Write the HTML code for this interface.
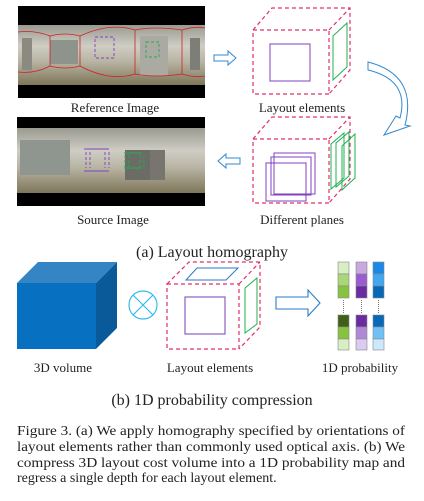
<!DOCTYPE html>
<html><head><meta charset="utf-8"><style>
html,body{margin:0;padding:0;background:#fff;}
svg{display:block;}
.t{font-family:"Liberation Serif",serif;fill:#222;}
</style></head><body>
<svg width="424" height="501" viewBox="0 0 424 501" xmlns="http://www.w3.org/2000/svg">
<defs>
<linearGradient id="pan" x1="0" y1="0" x2="0" y2="1">
<stop offset="0" stop-color="#9a9a90"/><stop offset="0.35" stop-color="#cfcdc4"/><stop offset="0.6" stop-color="#b9b5a5"/><stop offset="1" stop-color="#7f7659"/>
</linearGradient>
</defs>
<rect x="18" y="6" width="187" height="92" fill="#000"/>
<rect x="18" y="25" width="187" height="60" fill="url(#pan)"/>
<rect x="22" y="38" width="10" height="32" fill="#8a8a80"/>
<rect x="50" y="40" width="28" height="24" fill="#8e948c"/>
<rect x="140" y="36" width="28" height="40" fill="#aaa9a2"/>
<rect x="190" y="38" width="10" height="32" fill="#7e7e78"/>
<g fill="none" stroke="#d02020" stroke-width="0.8">
<path d="M18,32 Q35,30 50,36 Q65,32 80,36 Q110,22 135,30 Q155,26 182,30 Q195,26 205,28"/>
<path d="M18,72 Q35,74 50,66 Q65,70 80,66 Q110,82 135,74 Q155,78 182,74 Q195,78 205,76"/>
<line x1="50" y1="36" x2="50" y2="66"/><line x1="80" y1="36" x2="80" y2="66"/>
<line x1="135" y1="30" x2="135" y2="74"/><line x1="182" y1="30" x2="182" y2="74"/>
</g>
<rect x="95" y="37" width="19" height="21" fill="none" stroke="#8040c0" stroke-width="0.9" stroke-dasharray="3,2"/>
<rect x="146" y="42" width="13" height="15" fill="none" stroke="#20b050" stroke-width="0.9" stroke-dasharray="3,2"/>
<text class="t" x="115" y="112" font-size="13" text-anchor="middle">Reference Image</text>
<rect x="17" y="117" width="188" height="89" fill="#000"/>
<rect x="17" y="128" width="188" height="65" fill="url(#pan)"/>
<rect x="20" y="140" width="50" height="35" fill="#8f9690"/>
<rect x="125" y="150" width="25" height="30" fill="#6c6c66"/>
<rect x="150" y="150" width="15" height="30" fill="#77756e"/>
<g fill="none" stroke="#8040c0" stroke-width="0.9"><line x1="84" y1="149" x2="109" y2="149"/><line x1="84" y1="171" x2="109" y2="171"/><path d="M86,152v16M90,152v16M105,152v16M109,152v16" stroke-dasharray="3,2"/></g>
<g fill="none" stroke="#20b050" stroke-width="0.9"><line x1="124" y1="153" x2="142" y2="153"/><line x1="124" y1="168" x2="142" y2="168"/><path d="M125,155v12M129,155v12M140,155v12M144,155v12" stroke-dasharray="3,2"/></g>
<text class="t" x="113" y="224" font-size="13" text-anchor="middle">Source Image</text>
<path d="M214,55h14v-4l8,7l-8,7v-4h-14z" fill="#fff" stroke="#3388cc" stroke-width="1"/>
<path d="M240,158h-14v-4l-8,7l8,7v-4h14z" fill="#fff" stroke="#3388cc" stroke-width="1"/>
<path d="M368,62 Q418,75 405,125 L410,126 L384,135 L396,116 L400,118 Q410,80 368,70 Z" fill="#fff" stroke="#3388cc" stroke-width="1"/>
<g fill="none" stroke="#e0306a" stroke-width="1.2" stroke-dasharray="4,3">
<rect x="253" y="30" width="76" height="64"/>
<path d="M253,30L272,8H350V70L329,94M329,30L350,8"/>
</g>
<rect x="270" y="44" width="40" height="37" fill="none" stroke="#8040c0" stroke-width="1"/>
<path d="M333,36L347,23V67L333,80Z" fill="none" stroke="#20b050" stroke-width="1"/>
<text class="t" x="302" y="112" font-size="13" text-anchor="middle">Layout elements</text>
<g fill="none" stroke="#e0306a" stroke-width="1.2" stroke-dasharray="4,3">
<rect x="253" y="139" width="76" height="64"/>
<path d="M253,139L272,117H350V179L329,203M329,139L350,117"/>
</g>
<g fill="none" stroke="#8040c0" stroke-width="1">
<rect x="274" y="153" width="41" height="41"/><rect x="271" y="157" width="40" height="38"/><rect x="266" y="163" width="40" height="38"/>
</g>
<g fill="none" stroke="#20b050" stroke-width="1">
<path d="M331,144L344,133V178L331,189Z"/><path d="M336,143L349,132V176L336,187Z"/><path d="M342,146L355,134V178L342,190Z"/>
</g>
<text class="t" x="302" y="224" font-size="13" text-anchor="middle">Different planes</text>
<text class="t" x="212" y="257" font-size="16" text-anchor="middle">(a) Layout homography</text>
<path d="M17,283L38,262H117L96,283Z" fill="#3585c5"/>
<path d="M96,283L117,262V328L96,349Z" fill="#0a5a9a"/>
<rect x="17" y="283" width="79" height="66" fill="#0870c0"/>
<circle cx="143" cy="305" r="14" fill="none" stroke="#33bbee" stroke-width="1.2"/>
<path d="M133,295L153,315M153,295L133,315" stroke="#33bbee" stroke-width="1.2"/>
<text class="t" x="63" y="372" font-size="13" text-anchor="middle">3D volume</text>
<g fill="none" stroke="#e0306a" stroke-width="1.2" stroke-dasharray="4,3">
<rect x="167" y="284" width="72" height="65"/>
<path d="M167,284L189,262H260V327L239,349M239,284L260,262"/>
</g>
<path d="M186,280L197,268H238L226,280Z" fill="none" stroke="#2a7ac8" stroke-width="1"/>
<rect x="185" y="297" width="40" height="37" fill="none" stroke="#8a60c0" stroke-width="1.2"/>
<path d="M245,288L257,278V324L245,333Z" fill="none" stroke="#20b050" stroke-width="1"/>
<text class="t" x="210" y="372" font-size="13" text-anchor="middle">Layout elements</text>
<path d="M276,297h32v-7l12,13l-12,13v-7h-32z" fill="#fff" stroke="#2a7ac8" stroke-width="1.1"/>
<g stroke="#888" stroke-width="0.6">
<rect x="338" y="262" width="11" height="12" fill="#d8eec4"/><rect x="338" y="274" width="11" height="12" fill="#a8d878"/><rect x="338" y="286" width="11" height="12" fill="#86c440"/>
<rect x="338" y="315" width="11" height="12" fill="#3e6018"/><rect x="338" y="327" width="11" height="12" fill="#86c440"/><rect x="338" y="339" width="11" height="11" fill="#d8eec4"/>
<rect x="356" y="262" width="11" height="12" fill="#c8a8e0"/><rect x="356" y="274" width="11" height="12" fill="#9a5cd0"/><rect x="356" y="286" width="11" height="12" fill="#6a2aa0"/>
<rect x="356" y="315" width="11" height="12" fill="#6a2aa0"/><rect x="356" y="327" width="11" height="12" fill="#b088d8"/><rect x="356" y="339" width="11" height="11" fill="#dccaf0"/>
<rect x="373" y="262" width="11" height="12" fill="#1a88e8"/><rect x="373" y="274" width="11" height="12" fill="#40a8f0"/><rect x="373" y="286" width="11" height="12" fill="#0868b8"/>
<rect x="373" y="315" width="11" height="12" fill="#0868b8"/><rect x="373" y="327" width="11" height="12" fill="#70c0f8"/><rect x="373" y="339" width="11" height="11" fill="#cce8fa"/>
</g>
<g stroke="#555" stroke-width="0.8" stroke-dasharray="1,1"><path d="M343.5,300v13M361.5,300v13M378.5,300v13"/></g>
<text class="t" x="360" y="372" font-size="13" text-anchor="middle">1D probability</text>
<text class="t" x="212" y="405" font-size="16" text-anchor="middle">(b) 1D probability compression</text>
<g class="t" font-size="14">
<text x="17" y="435" textLength="388" lengthAdjust="spacingAndGlyphs">Figure 3.  (a) We apply homography specified by orientations of</text>
<text x="17" y="451" textLength="388" lengthAdjust="spacingAndGlyphs">layout elements rather than commonly used optical axis.  (b) We</text>
<text x="17" y="467" textLength="388" lengthAdjust="spacingAndGlyphs">compress 3D layout cost volume into a 1D probability map and</text>
<text x="17" y="482">regress a single depth for each layout element.</text>
</g>
</svg>
</body></html>
